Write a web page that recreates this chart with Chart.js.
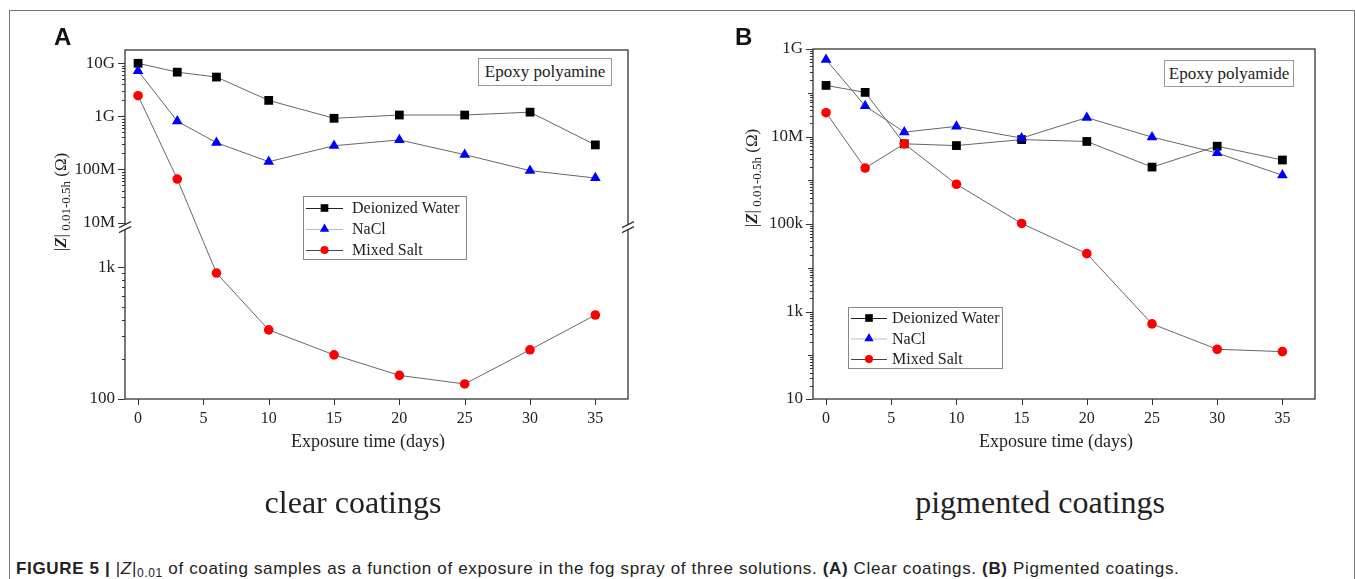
<!DOCTYPE html>
<html>
<head>
<meta charset="utf-8">
<script src="https://cdn.jsdelivr.net/npm/chart.js@4.4.1/dist/chart.umd.min.js"></script>
<style>
  body { margin: 0; background: #fff; }
  #page { position: relative; width: 1355px; height: 579px; overflow: hidden; font-family: "Liberation Serif", serif; color: #222; }
  .frame { position: absolute; left: 9px; top: 10px; width: 1346px; height: 640px; border: 1.5px solid #777; border-bottom: none; box-sizing: border-box; }
  canvas { position: absolute; top: 0; }
  .letter { position: absolute; font: bold 24px/24px "Liberation Sans", Arial, sans-serif; color: #111; }
  .ytitle { position: absolute; white-space: nowrap; font-size: 17px; line-height: 17px; transform: translate(-50%, -50%) rotate(-90deg); }
  .ytitle i { font-weight: bold; }
  .ytitle sub { font-size: 13px; vertical-align: -4px; line-height: 0; }
  .xtitle { position: absolute; font-size: 18px; line-height: 18px; white-space: nowrap; transform: translateX(-50%); }
  .sub { position: absolute; font-size: 32px; line-height: 32px; white-space: nowrap; transform: translateX(-50%); }
  .tag { position: absolute; border: 1px solid #999; box-sizing: border-box; font-size: 17px; text-align: center; background: #fff; }
  .caption { position: absolute; left: 16px; top: 560px; font: 17px/17px "Liberation Sans", Arial, sans-serif; letter-spacing: 0.65px; color: #222; white-space: nowrap; }
  .caption sub { font-size: 12px; vertical-align: -3px; line-height: 0; }
</style>
</head>
<body>
<div id="page">
  <div class="frame"></div>
  <canvas id="chartA" width="680" height="470" style="left:0"></canvas>
  <canvas id="chartB" width="675" height="470" style="left:680px"></canvas>

  <div class="letter" style="left:54px;top:25px">A</div>
  <div class="letter" style="left:735px;top:25px">B</div>

  <div class="ytitle" style="left:60px;top:202px">|<i>Z</i>|<sub>&nbsp;0.01-0.5h</sub> (Ω)</div>
  <div class="ytitle" style="left:751px;top:178px">|<i>Z</i>|<sub>&nbsp;0.01-0.5h</sub> (Ω)</div>

  <div class="xtitle" style="left:368px;top:432px">Exposure time (days)</div>
  <div class="xtitle" style="left:1056px;top:432px">Exposure time (days)</div>

  <div class="tag" style="left:478px;top:58px;width:134px;height:28px;line-height:26px">Epoxy polyamine</div>
  <div class="tag" style="left:1164px;top:60px;width:130px;height:27px;line-height:25px">Epoxy polyamide</div>

  <div class="sub" style="left:353px;top:486px">clear coatings</div>
  <div class="sub" style="left:1040px;top:486px">pigmented coatings</div>

  <div class="caption"><b>FIGURE 5 |</b> |<i>Z</i>|<sub>0.01</sub> of coating samples as a function of exposure in the fog spray of three solutions. <b>(A)</b> Clear coatings. <b>(B)</b> Pigmented coatings.</div>
</div>

<script>
// exposure days and series names
const DAYS = [0, 3, 6, 10, 15, 20, 25, 30, 35];
const SERIES = ['Deionized Water', 'NaCl', 'Mixed Salt'];
const DAY_TICKS = [0, 5, 10, 15, 20, 25, 30, 35];

// panel A - clear coatings (epoxy polyamine), |Z| in ohm
const A_WATER = [1.0e10, 6.8e9, 5.5e9, 2.0e9, 9.2e8, 1.06e9, 1.06e9, 1.2e9, 2.9e8];
const A_NACL = [7.2e9, 8.1e8, 3.2e8, 1.4e8, 2.8e8, 3.6e8, 1.9e8, 9.5e7, 6.9e7];
const A_MIXED = [2.45e9, 6.6e7, 900, 334, 216, 151, 130, 236, 433];
const A_TICK_VALUES = [100, 1e3, 1e7, 1e8, 1e9, 1e10];
const A_TICK_LABELS = ['100', '1k', '10M', '100M', '1G', '10G'];

// panel B - pigmented coatings (epoxy polyamide)
const B_WATER = [1.47e8, 1.02e8, 6.8e6, 6.2e6, 8.5e6, 7.7e6, 2.0e6, 6.0e6, 2.9e6];
const B_NACL = [5.7e8, 5.0e7, 1.26e7, 1.7e7, 9.2e6, 2.7e7, 9.7e6, 4.2e6, 1.3e6];
const B_MIXED = [3.5e7, 1.9e6, 6.8e6, 8.1e5, 1.03e5, 2.1e4, 520, 137, 121];
const B_TICK_VALUES = [10, 1e3, 1e5, 1e7, 1e9];
const B_TICK_LABELS = ['10', '1k', '100k', '10M', '1G'];

const AXIS = '#333';
const Y_FONT = { family: 'Liberation Serif', size: 17 };
const X_FONT = { family: 'Liberation Serif', size: 16 };

// broken log axis for panel A: two log segments (in decades) and where they sit on the axis
const A_BREAK = { lowMin: 2, lowMax: 3.28, lowTop: 0.484, highMin: 6.97, highMax: 10.25, highBottom: 0.501 };

function aDecimal(v) {
  const t = Math.log10(v), b = A_BREAK;
  if (t <= b.lowMax) return (t - b.lowMin) / (b.lowMax - b.lowMin) * b.lowTop;
  if (t >= b.highMin) return b.highBottom + (t - b.highMin) / (b.highMax - b.highMin) * (1 - b.highBottom);
  return b.lowTop + (t - b.lowMax) / (b.highMin - b.lowMax) * (b.highBottom - b.lowTop);
}

function aValue(d) {
  const b = A_BREAK;
  let t;
  if (d <= b.lowTop) t = b.lowMin + d / b.lowTop * (b.lowMax - b.lowMin);
  else if (d >= b.highBottom) t = b.highMin + (d - b.highBottom) / (1 - b.highBottom) * (b.highMax - b.highMin);
  else t = b.lowMax + (d - b.lowTop) / (b.highBottom - b.lowTop) * (b.highMin - b.lowMax);
  return Math.pow(10, t);
}

function inA(v) {
  const t = Math.log10(v), b = A_BREAK;
  return (t >= b.lowMin - 1e-9 && t <= b.lowMax) || (t >= b.highMin && t <= b.highMax);
}

// log ticks: lvl 2 = labelled, 1 = decade, 0 = minor
function logTicks(kFrom, kTo, majors, keep) {
  const out = [];
  for (let k = kFrom; k <= kTo; k++) {
    for (let m = 1; m <= 9; m++) {
      const v = m * Math.pow(10, k);
      if (!keep(v)) continue;
      const labelled = majors.some(mv => Math.abs(Math.log10(mv) - Math.log10(v)) < 1e-6);
      out.push({ value: v, lvl: labelled ? 2 : (m === 1 ? 1 : 0) });
    }
  }
  return out;
}

function labelFor(values, labels, v) {
  const i = values.findIndex(mv => Math.abs(Math.log10(mv) - Math.log10(v)) < 1e-6);
  return i < 0 ? '' : labels[i];
}

class BrokenLogScale extends Chart.Scale {
  determineDataLimits() {
    this.min = Math.pow(10, A_BREAK.lowMin);
    this.max = Math.pow(10, A_BREAK.highMax);
  }
  buildTicks() {
    return logTicks(2, 10, A_TICK_VALUES, inA);
  }
  getLabelForValue(v) { return String(v); }
  getPixelForValue(v) { return this.getPixelForDecimal(aDecimal(v)); }
  getValueForPixel(p) { return aValue(this.getDecimalForPixel(p)); }
}
BrokenLogScale.id = 'brokenLog';
BrokenLogScale.defaults = {};
Chart.register(BrokenLogScale);

function makeDatasets(water, nacl, mixed) {
  const pts = vals => DAYS.map((d, i) => ({ x: d, y: vals[i] }));
  return [
    { label: SERIES[0], data: pts(water), order: 2, pointStyle: 'rect', pointRadius: 6.2,
      backgroundColor: '#000', borderColor: '#666', legendLine: '#222' },
    { label: SERIES[1], data: pts(nacl), order: 1, pointStyle: 'triangle', pointRadius: 6.2,
      backgroundColor: '#0000ff', borderColor: '#666', legendLine: '#bbb' },
    { label: SERIES[2], data: pts(mixed), order: 0, pointStyle: 'circle', pointRadius: 4.8,
      backgroundColor: '#ff0000', borderColor: '#666', legendLine: '#444' }
  ].map(ds => Object.assign(ds, {
    borderWidth: 1, tension: 0, pointBackgroundColor: ds.backgroundColor,
    pointBorderColor: ds.backgroundColor, pointBorderWidth: 0, clip: false
  }));
}

function xScale() {
  return {
    type: 'linear', min: -1, max: 37.5,
    grid: { display: false, drawTicks: false }, border: { display: false },
    afterBuildTicks: s => { s.ticks = DAY_TICKS.map(v => ({ value: v })); },
    ticks: { autoSkip: false, padding: 10, font: X_FONT, color: '#222', callback: v => String(v) },
    afterFit: s => { s.height = 71; }
  };
}

// frame, tick marks, axis break and legend box
function deco(cfg) {
  return {
    id: 'deco',
    afterDraw(chart) {
      const ctx = chart.ctx;
      const { left, right, top, bottom } = chart.chartArea;
      const ys = chart.scales.y, xs = chart.scales.x;
      ctx.save();
      ctx.strokeStyle = AXIS;
      ctx.lineWidth = 1.3;
      ctx.strokeRect(left, top, right - left, bottom - top);

      ctx.lineWidth = 1;
      ys.ticks.forEach(t => {
        const p = Math.round(ys.getPixelForValue(t.value)) + 0.5;
        const len = t.lvl === 2 ? 7 : (t.lvl === 1 ? 5 : 3);
        ctx.beginPath(); ctx.moveTo(left - len, p); ctx.lineTo(left, p); ctx.stroke();
      });
      xs.ticks.forEach(t => {
        const p = Math.round(xs.getPixelForValue(t.value)) + 0.5;
        ctx.beginPath(); ctx.moveTo(p, bottom); ctx.lineTo(p, bottom + 6); ctx.stroke();
      });

      if (cfg.broken) {
        const y0 = (ys.getPixelForValue(Math.pow(10, A_BREAK.lowMax)) + ys.getPixelForValue(Math.pow(10, A_BREAK.highMin))) / 2;
        [left, right].forEach(x => {
          ctx.fillStyle = '#fff';
          ctx.beginPath();
          ctx.moveTo(x - 6, y0 + 0.5); ctx.lineTo(x + 6, y0 - 5.5);
          ctx.lineTo(x + 6, y0 - 0.5); ctx.lineTo(x - 6, y0 + 5.5);
          ctx.closePath(); ctx.fill();
          ctx.strokeStyle = AXIS; ctx.lineWidth = 1.2;
          ctx.beginPath();
          ctx.moveTo(x - 6, y0 + 0.5); ctx.lineTo(x + 6, y0 - 5.5);
          ctx.moveTo(x - 6, y0 + 5.5); ctx.lineTo(x + 6, y0 - 0.5);
          ctx.stroke();
        });
      }

      const lg = cfg.legend;
      ctx.fillStyle = '#fff';
      ctx.fillRect(lg.x, lg.y, lg.w, lg.h);
      ctx.strokeStyle = '#888'; ctx.lineWidth = 1;
      ctx.strokeRect(lg.x + 0.5, lg.y + 0.5, lg.w, lg.h);
      ctx.font = '16px "Liberation Serif"';
      ctx.textBaseline = 'middle';
      chart.data.datasets.forEach((ds, i) => {
        const y = lg.y + lg.row0 + i * lg.step;
        ctx.strokeStyle = ds.legendLine; ctx.lineWidth = 1;
        ctx.beginPath(); ctx.moveTo(lg.x + 3, y + 0.5); ctx.lineTo(lg.x + lg.lineW, y + 0.5); ctx.stroke();
        ctx.fillStyle = ds.backgroundColor; ctx.strokeStyle = ds.backgroundColor;
        Chart.helpers.drawPoint(ctx, { pointStyle: ds.pointStyle, radius: ds.pointRadius - 0.8, borderWidth: 0, rotation: 0 },
          lg.x + 3 + (lg.lineW - 3) / 2, y);
        ctx.fillStyle = '#222';
        ctx.fillText(ds.label, lg.x + lg.textX, y + 1);
      });
      ctx.restore();
    }
  };
}

new Chart(document.getElementById('chartA'), {
  type: 'line',
  data: { datasets: makeDatasets(A_WATER, A_NACL, A_MIXED) },
  options: {
    responsive: false, animation: false,
    layout: { padding: { top: 50, right: 52, bottom: 0, left: 0 } },
    plugins: { legend: { display: false }, tooltip: { enabled: false } },
    scales: {
      x: xScale(),
      y: {
        type: 'brokenLog', position: 'left',
        grid: { display: false, drawTicks: false }, border: { display: false },
        ticks: { autoSkip: false, padding: 10, font: Y_FONT, color: '#222',
          callback: v => labelFor(A_TICK_VALUES, A_TICK_LABELS, v) },
        afterFit: s => { s.width = 125; }
      }
    }
  },
  plugins: [deco({ broken: true, legend: { x: 303, y: 196, w: 163, h: 63, row0: 12, step: 21, lineW: 40, textX: 49 } })]
});

new Chart(document.getElementById('chartB'), {
  type: 'line',
  data: { datasets: makeDatasets(B_WATER, B_NACL, B_MIXED) },
  options: {
    responsive: false, animation: false,
    layout: { padding: { top: 49, right: 40, bottom: 0, left: 0 } },
    plugins: { legend: { display: false }, tooltip: { enabled: false } },
    scales: {
      x: xScale(),
      y: {
        type: 'logarithmic', position: 'left', min: 10, max: 1e9,
        grid: { display: false, drawTicks: false }, border: { display: false },
        afterBuildTicks: s => { s.ticks = logTicks(1, 9, B_TICK_VALUES, v => v <= 1e9 * 1.0001); },
        ticks: { autoSkip: false, padding: 10, font: Y_FONT, color: '#222',
          callback: v => labelFor(B_TICK_VALUES, B_TICK_LABELS, v) },
        afterFit: s => { s.width = 133; }
      }
    }
  },
  plugins: [deco({ broken: false, legend: { x: 168, y: 307, w: 154, h: 61, row0: 11, step: 20.5, lineW: 39, textX: 44 } })]
});
</script>
</body>
</html>
